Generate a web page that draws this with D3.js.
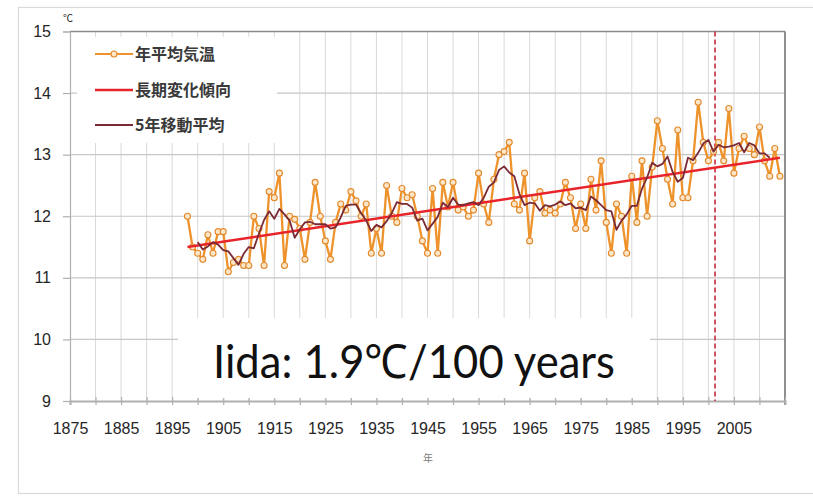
<!DOCTYPE html>
<html>
<head>
<meta charset="utf-8">
<script src="https://cdn.jsdelivr.net/npm/d3@7/dist/d3.min.js"></script>
<style>
  html, body { margin: 0; padding: 0; background: #ffffff; }
  svg { display: block; }
</style>
</head>
<body>
<svg id="chart" width="813" height="497"></svg>
<script>
// Annual mean temperature at Iida (°C), one value per year from firstYear
const firstYear = 1898;
const annualTemp = [
  12.0, 11.5, 11.4, 11.3, 11.7, 11.4, 11.75, 11.75, 11.1, 11.25,   // 1898-1907
  11.3, 11.2, 11.2, 12.0, 11.8, 11.2, 12.4, 12.3, 12.7, 11.2,      // 1908-1917
  12.0, 11.95, 11.8, 11.3, 11.9, 12.55, 12.0, 11.6, 11.3, 11.9,    // 1918-1927
  12.2, 12.1, 12.4, 12.25, 12.0, 12.2, 11.4, 11.8, 11.4, 12.5,     // 1928-1937
  12.0, 11.9, 12.45, 12.3, 12.35, 12.0, 11.6, 11.4, 12.45, 11.4,   // 1938-1947
  12.55, 12.15, 12.55, 12.1, 12.15, 12.0, 12.1, 12.7, 12.2, 11.9,  // 1948-1957
  12.6, 13.0, 13.05, 13.2, 12.2, 12.1, 12.7, 11.6, 12.3, 12.4,     // 1958-1967
  12.05, 12.1, 12.05, 12.2, 12.55, 12.3, 11.8, 12.2, 11.8, 12.6,   // 1968-1977
  12.1, 12.9, 11.9, 11.4, 12.2, 12.0, 11.4, 12.65, 11.9, 12.9,     // 1978-1987
  12.0, 12.8, 13.55, 13.1, 12.6, 12.2, 13.4, 12.3, 12.3, 12.9,     // 1988-1997
  13.85, 13.2, 12.9, 13.05, 13.2, 12.9, 13.75, 12.7, 13.1, 13.3,   // 1998-2007
  13.1, 13.0, 13.45, 12.9, 12.65, 13.1, 12.65                      // 2008-2014
];

// Centred 5-year moving average, one value per year from maFirstYear
const maFirstYear = 1900;
const movingAvg5 = [
  11.58, 11.46, 11.51, 11.58, 11.54, 11.45, 11.43, 11.32, 11.21, 11.39, // 1900-1909
  11.50, 11.48, 11.72, 11.94, 12.08, 11.96, 12.12, 12.03, 11.93, 11.65, // 1910-1919
  11.79, 11.90, 11.91, 11.87, 11.87, 11.87, 11.80, 11.82, 11.98, 12.17, // 1920-1929
  12.19, 12.19, 12.05, 11.93, 11.76, 11.86, 11.82, 11.92, 12.05, 12.23, // 1930-1939
  12.20, 12.20, 12.14, 11.93, 11.96, 11.77, 11.88, 11.99, 12.22, 12.15, // 1940-1949
  12.30, 12.19, 12.18, 12.21, 12.23, 12.18, 12.30, 12.48, 12.55, 12.75, // 1950-1959
  12.81, 12.71, 12.65, 12.36, 12.18, 12.22, 12.21, 12.09, 12.18, 12.16, // 1960-1969
  12.19, 12.24, 12.18, 12.21, 12.13, 12.14, 12.10, 12.32, 12.26, 12.18, // 1970-1979
  12.10, 12.08, 11.78, 11.93, 12.03, 12.17, 12.17, 12.45, 12.63, 12.87, // 1980-1989
  12.81, 12.85, 12.97, 12.72, 12.56, 12.62, 12.95, 12.91, 13.03, 13.18, // 1990-1999
  13.24, 13.05, 13.16, 13.12, 13.13, 13.15, 13.19, 13.04, 13.19, 13.15, // 2000-2009
  13.02, 13.02, 12.95                                                   // 2010-2012
];

// Long-term linear trend, given by its two end points
const trendYears = [1898, 2014];
const trendTemps = [11.5, 12.95];

// Year marked by the dashed vertical line
const markedYear = 2001.3;

// Axis ticks and labels
const yTicks = [9, 10, 11, 12, 13, 14, 15];
const xTickYears = [1875, 1880, 1885, 1890, 1895, 1900, 1905, 1910, 1915, 1920, 1925, 1930,
  1935, 1940, 1945, 1950, 1955, 1960, 1965, 1970, 1975, 1980, 1985, 1990, 1995, 2000,
  2005, 2010, 2015];
const xLabelYears = [1875, 1885, 1895, 1905, 1915, 1925, 1935, 1945, 1955, 1965, 1975,
  1985, 1995, 2005];

const legendLabels = ["年平均気温", "長期変化傾向", "5年移動平均"];
const annotation = "Iida: 1.9\u2103/100 years";

// ---------------------------------------------------------------
const annualRows = annualTemp.map((v, i) => ({ year: firstYear + i, value: v }));
const maRows = movingAvg5.map((v, i) => ({ year: maFirstYear + i, value: v }));
const trendRows = trendYears.map((yr, i) => ({ year: yr, value: trendTemps[i] }));

const svg = d3.select("#chart");
const plot = { left: 70, right: 785, top: 31.5, bottom: 401 };

const x = d3.scaleLinear().domain([1875, 2015]).range([plot.left, plot.right]);
const y = d3.scaleLinear().domain([9, 15]).range([plot.bottom, plot.top]);

const colors = {
  annual: "#EE932C",
  annualMarker: "#E2882A",
  annualMarkerFill: "#FCE6C8",
  trend: "#E8242A",
  ma: "#7A2A35",
  grid: "#c6c6c6",
  vgrid: "#d9d9d9",
  axis: "#b0b0b0",
  text: "#262626"
};

// Outer frame of the chart area
svg.append("rect")
  .attr("x", 18.5).attr("y", 7.5)
  .attr("width", 830).attr("height", 486)
  .attr("fill", "none").attr("stroke", "#d9d9d9").attr("stroke-width", 1.2);

// Vertical gridlines every 5 years
svg.append("g")
  .selectAll("line")
  .data(xTickYears.filter(d => d > 1875 && d < 2015))
  .join("line")
  .attr("x1", d => x(d)).attr("x2", d => x(d))
  .attr("y1", plot.top).attr("y2", plot.bottom)
  .attr("stroke", colors.vgrid).attr("stroke-width", 1);

// Horizontal gridlines
svg.append("g")
  .selectAll("line")
  .data(yTicks.filter(d => d > 9 && d < 15))
  .join("line")
  .attr("x1", plot.left).attr("x2", plot.right)
  .attr("y1", d => y(d)).attr("y2", d => y(d))
  .attr("stroke", colors.grid).attr("stroke-width", 1.2);

// Plot-area top and right edges
svg.append("line")
  .attr("x1", plot.left).attr("x2", plot.right)
  .attr("y1", y(15)).attr("y2", y(15))
  .attr("stroke", "#8a8a8a").attr("stroke-width", 1.3);
svg.append("line")
  .attr("x1", plot.right).attr("x2", plot.right)
  .attr("y1", plot.top).attr("y2", plot.bottom + 4)
  .attr("stroke", "#6a6a6a").attr("stroke-width", 1.5);

// Y axis
const yAxis = svg.append("g")
  .attr("transform", `translate(${plot.left},0)`)
  .call(d3.axisLeft(y).tickValues(yTicks).tickFormat(d3.format("d")).tickSize(7).tickPadding(12));
yAxis.select(".domain").attr("stroke", colors.axis).attr("stroke-width", 1.2);
yAxis.selectAll(".tick line").attr("stroke", colors.axis).attr("stroke-width", 1.2);
yAxis.selectAll(".tick text")
  .attr("fill", colors.text)
  .style("font-family", "'Liberation Sans', Arial, sans-serif")
  .style("font-size", "16px");

// X axis
const xAxis = svg.append("g")
  .attr("transform", `translate(0,${plot.bottom})`)
  .call(d3.axisBottom(x).tickValues(xTickYears)
    .tickFormat(d => xLabelYears.includes(d) ? String(d) : "")
    .tickSize(4).tickPadding(18));
xAxis.select(".domain").attr("stroke", colors.axis).attr("stroke-width", 2);
xAxis.selectAll(".tick line").attr("y1", -4).attr("stroke", colors.axis).attr("stroke-width", 1.2);
xAxis.selectAll(".tick text")
  .attr("fill", colors.text)
  .style("font-family", "'Liberation Sans', Arial, sans-serif")
  .style("font-size", "16px");

// Unit label and axis title
svg.append("text")
  .attr("x", 63).attr("y", 22)
  .attr("fill", colors.text)
  .style("font-family", "'Noto Sans CJK JP', sans-serif")
  .style("font-size", "10px")
  .text("\u2103");
svg.append("text")
  .attr("x", 428).attr("y", 462)
  .attr("text-anchor", "middle")
  .attr("fill", "#7a7a7a")
  .style("font-family", "'Noto Sans CJK JP', sans-serif")
  .style("font-size", "10px")
  .text("年");

// Dashed marker line
svg.append("line")
  .attr("x1", x(markedYear)).attr("x2", x(markedYear))
  .attr("y1", plot.top).attr("y2", plot.bottom)
  .attr("stroke", "#c8283a").attr("stroke-width", 1.6)
  .attr("stroke-dasharray", "5,3");

// Annual mean temperature: line with hollow markers
const line = d3.line().x(d => x(d.year)).y(d => y(d.value));
svg.append("path")
  .datum(annualRows)
  .attr("d", line)
  .attr("fill", "none")
  .attr("stroke", colors.annual)
  .attr("stroke-width", 2.3)
  .attr("stroke-linejoin", "round");
svg.append("g")
  .selectAll("circle")
  .data(annualRows)
  .join("circle")
  .attr("cx", d => x(d.year)).attr("cy", d => y(d.value))
  .attr("r", 3)
  .attr("fill", colors.annualMarkerFill)
  .attr("stroke", colors.annualMarker)
  .attr("stroke-width", 1.1);

// Long-term trend
svg.append("path")
  .datum(trendRows)
  .attr("d", line)
  .attr("fill", "none")
  .attr("stroke", colors.trend)
  .attr("stroke-width", 2.5);

// 5-year moving average
svg.append("path")
  .datum(maRows)
  .attr("d", line)
  .attr("fill", "none")
  .attr("stroke", colors.ma)
  .attr("stroke-width", 1.8)
  .attr("stroke-linejoin", "round");

// Legend
const legend = svg.append("g");
legend.append("rect")
  .attr("x", 77).attr("y", 37).attr("width", 200).attr("height", 106)
  .attr("fill", "#ffffff");
const legendRowsY = [54, 90, 125];
const legendColors = [colors.annual, colors.trend, colors.ma];
legendLabels.forEach((label, i) => {
  const ly = legendRowsY[i];
  legend.append("line")
    .attr("x1", 95).attr("x2", 133).attr("y1", ly).attr("y2", ly)
    .attr("stroke", legendColors[i]).attr("stroke-width", i === 1 ? 2.6 : 2.2);
  if (i === 0) {
    legend.append("circle")
      .attr("cx", 114).attr("cy", ly).attr("r", 3)
      .attr("fill", colors.annualMarkerFill).attr("stroke", colors.annualMarker).attr("stroke-width", 1.1);
  }
  legend.append("text")
    .attr("x", 135).attr("y", ly + 6)
    .attr("fill", "#3a3a3a")
    .style("font-family", "'Noto Sans CJK JP', sans-serif")
    .style("font-size", "16px")
    .style("font-weight", "bold")
    .text(label);
});

// Annotation box with the warming rate
svg.append("rect")
  .attr("x", 178).attr("y", 318).attr("width", 472).attr("height", 80)
  .attr("fill", "#ffffff");
svg.append("text")
  .attr("x", 213).attr("y", 378)
  .attr("fill", "#111111")
  .attr("textLength", 402)
  .attr("lengthAdjust", "spacingAndGlyphs")
  .style("font-family", "Lato, 'Open Sans', sans-serif")
  .style("font-size", "47px")
  .text(annotation);
</script>
</body>
</html>
